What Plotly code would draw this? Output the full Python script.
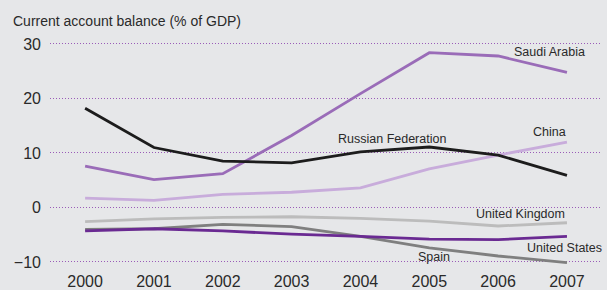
import plotly.graph_objects as go

years = [2000, 2001, 2002, 2003, 2004, 2005, 2006, 2007]
russia = [18.2, 11.0, 8.5, 8.2, 10.2, 11.1, 9.6, 5.9]
saudi = [7.6, 5.1, 6.2, 13.2, 20.9, 28.4, 27.8, 24.8]
china = [1.7, 1.3, 2.4, 2.8, 3.6, 7.1, 9.6, 12.0]
uk = [-2.6, -2.1, -1.8, -1.7, -2.0, -2.5, -3.4, -2.8]
spain = [-4.0, -3.9, -3.1, -3.5, -5.3, -7.4, -8.9, -10.1]
us = [-4.3, -3.9, -4.3, -4.9, -5.3, -5.8, -5.9, -5.3]
y_ticks = [-10, 0, 10, 20, 30]

FONT = "Liberation Sans, Arial, sans-serif"

series = [
    ("United Kingdom", uk, "#bcbcbc"),
    ("China", china, "#c8acdb"),
    ("Spain", spain, "#7f7f7f"),
    ("United States", us, "#6a2a92"),
    ("Saudi Arabia", saudi, "#9a6cb8"),
    ("Russian Federation", russia, "#1c1c1c"),
]

fig = go.Figure()
for name, vals, col in series:
    fig.add_trace(go.Scatter(x=years, y=vals, mode="lines", name=name,
                             line=dict(color=col, width=2.8), showlegend=False,
                             hoverinfo="skip"))

labels = [
    ("Saudi Arabia", 2006.75, 28.5),
    ("Russian Federation", 2004.46, 12.6),
    ("China", 2006.75, 13.85),
    ("United Kingdom", 2006.33, -1.25),
    ("United States", 2006.97, -7.45),
    ("Spain", 2005.07, -9.1),
]
for text, x, y in labels:
    fig.add_annotation(x=x, y=y, text=text, showarrow=False, xanchor="center",
                       yanchor="middle", font=dict(family=FONT, size=12.5, color="#2a2a2a"))

fig.add_annotation(xref="paper", yref="paper", x=-39/550, y=(290-21-20)/235,
                   text="Current account balance (% of GDP)", showarrow=False,
                   xanchor="left", yanchor="middle",
                   font=dict(family=FONT, size=14, color="#2a2a2a"))

fig.update_layout(
    width=607, height=290,
    margin=dict(l=50, r=7, t=35, b=20, autoexpand=False),
    paper_bgcolor="#e6e7e9", plot_bgcolor="#e6e7e9",
    font=dict(family=FONT, size=16, color="#2a2a2a"),
    xaxis=dict(range=[1999.49, 2007.48], tickvals=years, showgrid=False,
               zeroline=False, showline=False, ticks="", ticklabelstandoff=0,
               automargin=False, tickfont=dict(size=16)),
    yaxis=dict(range=[-11.47, 31.65], tickvals=y_ticks, showgrid=True,
               gridcolor="#9a5cb8", griddash="1px,2px", gridwidth=1,
               zeroline=False, showline=False, ticks="", ticklabelstandoff=8,
               automargin=False, tickfont=dict(size=16)),
)

fig.write_html(
    "out.html",
    config={"displayModeBar": False},
    post_script="document.body.style.margin='0';document.body.style.padding='0';"
                "document.documentElement.style.overflow='hidden';"
                "document.body.style.background='#e6e7e9';",
)
